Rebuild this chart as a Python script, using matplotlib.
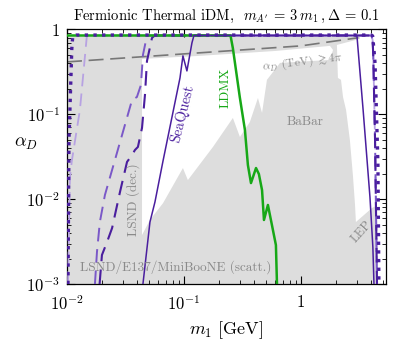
import matplotlib
matplotlib.use('Agg')
import matplotlib.pyplot as plt

plt.rcParams['font.family'] = ['cmr10', 'DejaVu Serif']
plt.rcParams['mathtext.fontset'] = 'cm'
plt.rcParams['axes.formatter.use_mathtext'] = True

# excluded (gray) region: LSND / E137 / MiniBooNE / BaBar / LEP
gray_x = [0.01, 3.19, 3.19, 2.03, 2.07, 2.20, 2.29, 2.43, 2.62, 2.78, 2.90, 2.95, 4.05, 4.38, 4.38, 0.01]
gray_y = [0.85, 0.85, 0.775, 0.658, 0.269, 0.255, 0.160, 0.113, 0.050, 0.0193, 0.00855, 0.00538,
          0.00787, 0.00832, 0.001, 0.001]
# allowed window inside it
hole_x = [0.0438, 0.137, 0.611, 1.77, 1.88, 1.77, 0.662, 0.624, 0.512, 0.465, 0.429, 0.366, 0.301,
          0.262, 0.177, 0.108, 0.098, 0.0663, 0.0512, 0.0438]
hole_y = [0.450, 0.489, 0.559, 0.641, 0.574, 0.438, 0.404, 0.362, 0.255, 0.104, 0.156, 0.0813, 0.0541,
          0.0907, 0.0413, 0.0168, 0.0233, 0.0090, 0.00569, 0.00378]

# alpha_D(TeV) > 4 pi
pert_x = [0.01, 1.0, 3.1]
pert_y = [0.415, 0.641, 0.80]

# projections
ldmx_x = [0.01, 0.25, 0.262, 0.30, 0.332, 0.352, 0.374, 0.413, 0.437, 0.465, 0.483, 0.522, 0.565, 0.611, 0.624]
ldmx_y = [0.85, 0.85, 0.60, 0.160, 0.0655, 0.0253, 0.0155, 0.0233, 0.0198, 0.0128, 0.00569, 0.00855,
          0.00496, 0.00288, 0.001]

seaquest_x = [0.0446, 0.0512, 0.0565, 0.0662, 0.0925, 0.098, 0.106, 0.117, 0.1217, 3.01, 3.40, 3.89, 4.12, 4.21]
seaquest_y = [0.001, 0.00538, 0.00927, 0.0282, 0.269, 0.489, 0.325, 0.695, 0.85, 0.85, 0.113, 0.0106,
              0.00273, 0.001]

dash_med_x = [0.01734, 0.01804, 0.0191, 0.0211, 0.0257, 0.0360, 0.0396, 0.0429, 0.0446, 0.0483,
              4.0, 4.1, 4.15, 4.3, 4.47]
dash_med_y = [0.001, 0.00238, 0.00538, 0.0112, 0.029, 0.148, 0.160, 0.222, 0.501, 0.85,
              0.85, 0.75, 0.5, 0.05, 0.001]

dash_dark_x = [0.019, 0.0199, 0.0220, 0.0243, 0.0284, 0.0326, 0.036, 0.0381, 0.0404, 0.0438, 0.0464,
               0.0483, 0.0533, 0.0563, 4.0, 4.1, 4.15, 4.3, 4.47]
dash_dark_y = [0.001, 0.0022, 0.00313, 0.00457, 0.0122, 0.0275, 0.0332, 0.038, 0.0413, 0.0692, 0.169,
               0.426, 0.796, 0.85, 0.85, 0.75, 0.5, 0.05, 0.001]

dash_light_x = [0.0102, 0.0106, 0.0110, 0.0129, 0.0148, 4.0, 4.1, 4.15, 4.3, 4.47]
dash_light_y = [0.001, 0.0178, 0.0283, 0.113, 0.85, 0.85, 0.75, 0.5, 0.05, 0.001]

dot_x = [0.0102, 0.0104, 0.0110, 0.0112, 0.012, 4.0, 4.1, 4.2, 4.3, 4.55, 4.64]
dot_y = [0.001, 0.05, 0.6, 0.83, 0.86, 0.86, 0.84, 0.6, 0.4, 0.027, 0.001]

dark = '#4a1e9e'
med = '#7a58c8'
light = '#b7a2e2'
green = '#17a817'
txt = '#8a8a8a'

fig = plt.figure(figsize=(4.15, 3.41), dpi=100)
ax = fig.add_axes([0.1614, 0.167, 0.7686, 0.7465])

ax.fill(gray_x, gray_y, color='#dddddd', lw=0, zorder=1)
ax.fill(hole_x, hole_y, color='white', lw=0, zorder=1.5)

ax.plot(pert_x, pert_y, color='#777777', ls=(0, (9, 4)), lw=1.2, zorder=2)

ax.plot(dash_light_x, dash_light_y, color=light, ls=(0, (7, 4)), lw=1.3, zorder=3)
ax.plot(dash_med_x, dash_med_y, color=med, ls=(0, (7, 4)), lw=1.4, zorder=3)
ax.plot(dash_dark_x, dash_dark_y, color=dark, ls=(0, (7, 4)), lw=1.5, zorder=3)
ax.plot(ldmx_x, ldmx_y, color=green, lw=1.8, zorder=3)
ax.plot(seaquest_x, seaquest_y, color=dark, lw=1.1, zorder=4)
ax.plot(dot_x, dot_y, color=dark, ls=(0, (1, 1.6)), lw=2.4, zorder=5)

ax.set_xscale('log')
ax.set_yscale('log')
ax.set_xlim(0.01, 5.33)
ax.set_ylim(1e-3, 1)
ax.set_xticks([0.01, 0.1, 1])
ax.set_xticklabels([r'$10^{-2}$', r'$10^{-1}$', r'$1$'])
ax.set_yticks([1e-3, 1e-2, 1e-1, 1])
ax.set_yticklabels([r'$10^{-3}$', r'$10^{-2}$', r'$10^{-1}$', r'$1$'])
ax.tick_params(which='both', direction='in', top=True, right=True, labelsize=12)
ax.tick_params(which='major', length=6, width=0.8)
ax.tick_params(which='minor', length=3, width=0.6)
ax.tick_params(axis='x', which='major', pad=7)
ax.tick_params(axis='y', which='major', pad=5)
for s in ax.spines.values():
    s.set_linewidth(0.9)

ax.set_xlabel(r'$m_1\ [\mathrm{GeV}]$', fontsize=13, labelpad=5)
ax.set_ylabel(r'$\alpha_D$', fontsize=13, rotation=0, labelpad=4)
ax.yaxis.set_label_coords(-0.13, 0.52)
ax.set_title(r"Fermionic Thermal iDM,  $m_{A'}\,=\,3\;m_1\,,\Delta\,=\,0.1$", fontsize=10.5, pad=7)

ax.text(0.098, 0.101, 'SeaQuest', color=dark, fontsize=10.5, rotation=76, ha='center', va='center', zorder=6)
ax.text(0.229, 0.205, 'LDMX', color=green, fontsize=9.5, rotation=90, ha='center', va='center', zorder=6)
ax.text(1.08, 0.0813, 'BaBar', color=txt, fontsize=9.5, ha='center', va='center', zorder=6)
ax.text(3.32, 0.0041, 'LEP', color=txt, fontsize=9, rotation=48, ha='center', va='center', zorder=6)
ax.text(0.0366, 0.0098, 'LSND (dec.)', color=txt, fontsize=9.5, rotation=90, ha='center', va='center', zorder=6)
ax.text(0.0129, 0.00159, 'LSND/E137/MiniBooNE (scatt.)', color=txt, fontsize=9.5, ha='left', va='center', zorder=6)
ax.text(1.04, 0.405, r'$\alpha_D$ (TeV) $\gtrsim 4\pi$', color=txt, fontsize=8.5, rotation=7,
        ha='center', va='center', zorder=6)

fig.savefig('out.png', dpi=100)
